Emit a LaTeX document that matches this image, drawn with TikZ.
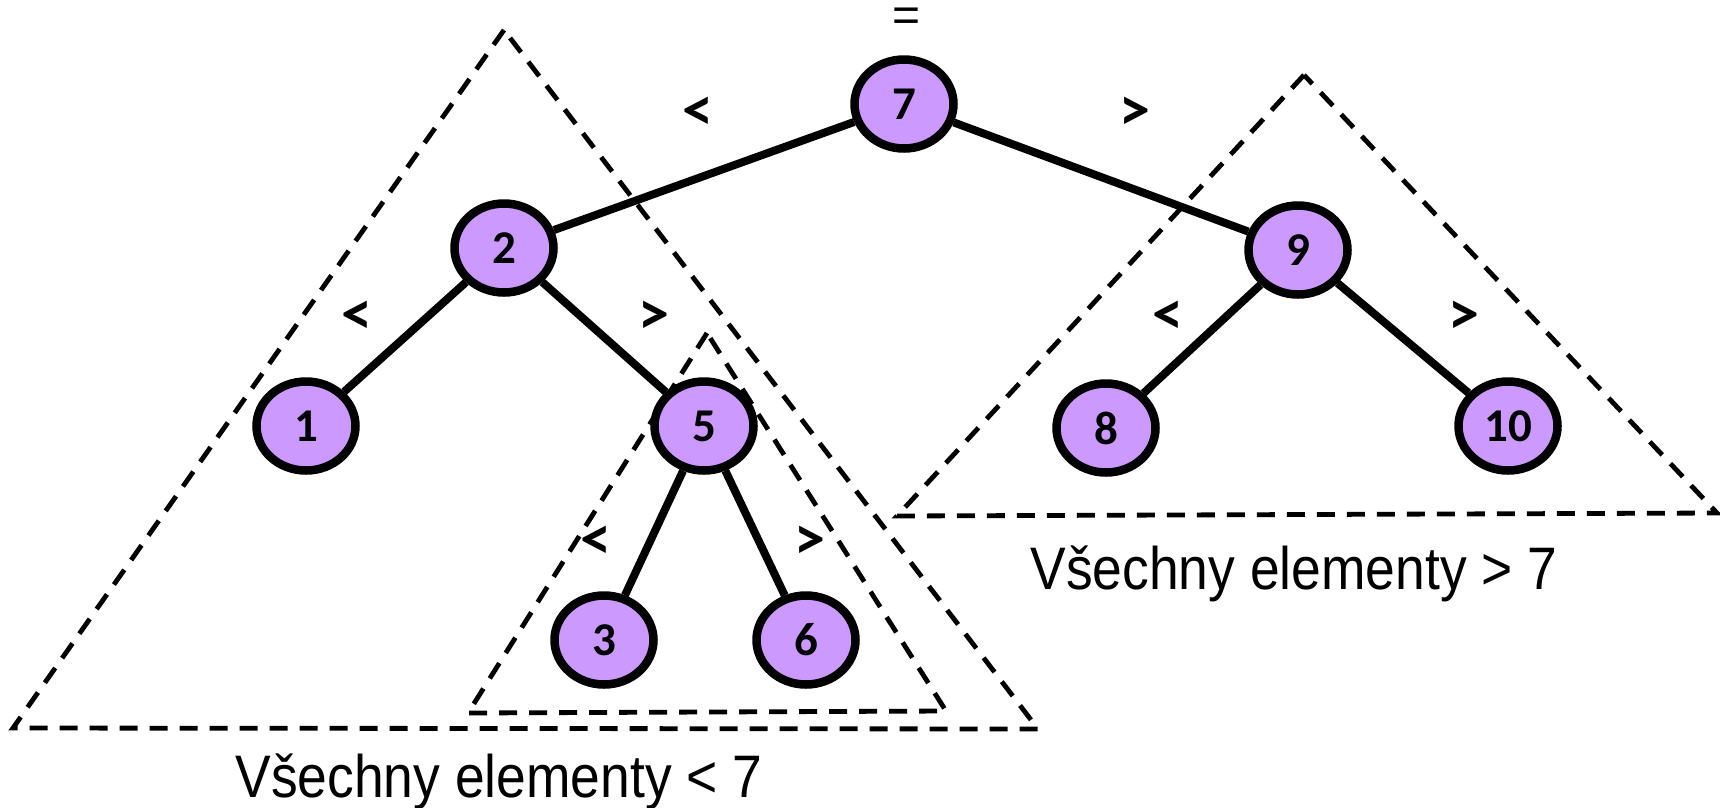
\documentclass[tikz,border=0pt]{standalone}
\usepackage{fontspec}
\setmainfont{Carlito}
\newfontfamily\arialn[FakeStretch=0.89]{Liberation Sans}
\newfontfamily\arialf{Liberation Sans}
\usetikzlibrary{shapes.geometric}
\definecolor{nodefill}{RGB}{204,153,255}
\begin{document}
\begin{tikzpicture}[x=1pt,y=-1pt,
  bnode/.style={ellipse, draw=black, line width=8.5pt, fill=nodefill, minimum width=99pt, minimum height=89pt, inner sep=0pt, font=\fontsize{47}{47}\selectfont\bfseries},
  edge/.style={line width=8pt},
  region/.style={line width=4.8pt, dash pattern=on 18pt off 12pt},
  cmp/.style={font=\fontsize{62}{62}\selectfont\bfseries, inner sep=0pt},
  caption/.style={font=\arialn\fontsize{60}{60}\selectfont, inner sep=0pt, anchor=base}]
\useasboundingbox (0,0) rectangle (1720,807);
% subtree regions
\draw[region] (504,30) -- (13,728) -- (1038,729) -- cycle;
\draw[region] (707,333) -- (468,713) -- (946,711) -- cycle;
\draw[region] (1304,75) -- (897,516) -- (1717,513) -- cycle;
% nodes
\node[bnode] (n7) at (904,104) {7};
\node[bnode] (n2) at (504,248) {2};
\node[bnode] (n9) at (1298,250) {9};
\node[bnode] (n1) at (306,426) {1};
\node[bnode] (n5) at (704,426) {5};
\node[bnode] (n8) at (1106,428) {8};
\node[bnode] (n10) at (1508,426) {10};
\node[bnode] (n3) at (604,640) {3};
\node[bnode] (n6) at (806,640) {6};
% edges
\draw[edge] (n7) -- (n2);
\draw[edge] (n7) -- (n9);
\draw[edge] (n2) -- (n1);
\draw[edge] (n2) -- (n5);
\draw[edge] (n5) -- (n3);
\draw[edge] (n5) -- (n6);
\draw[edge] (n9) -- (n8);
\draw[edge] (n9) -- (n10);
% comparison labels
\node[font=\arialf\fontsize{48}{48}\selectfont, inner sep=0pt, anchor=center] (eq) at (907,20) {=};
\node[cmp] (l72) at (698,114) {<};
\node[cmp] (l79) at (1135,114) {>};
\node[cmp] (l21) at (357,318) {<};
\node[cmp] (l25) at (654,318) {>};
\node[cmp] (l98) at (1168,318) {<};
\node[cmp] (l910) at (1464,318) {>};
\node[cmp] (l53) at (596,543) {<};
\node[cmp] (l56) at (810,543) {>};
% captions
\node[caption] (capL) at (499,797) {Všechny elementy < 7};
\node[caption] (capR) at (1294,589) {Všechny elementy > 7};
\end{tikzpicture}
\end{document}
